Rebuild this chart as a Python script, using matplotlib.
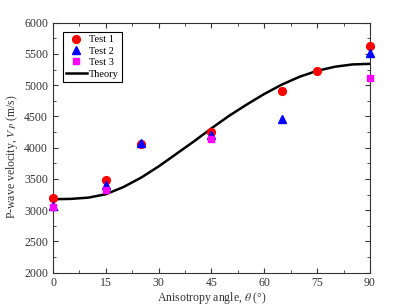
import matplotlib
matplotlib.use('Agg')
import matplotlib.pyplot as plt
from matplotlib.ticker import MultipleLocator

plt.rcParams['font.family'] = ['Liberation Serif', 'DejaVu Serif']
plt.rcParams['mathtext.fontset'] = 'stix'
plt.rcParams['font.size'] = 8.5

# measured data
ang1 = [0, 15, 25, 45, 65, 75, 90]
test1 = [3195, 3480, 4060, 4255, 4905, 5225, 5630]
ang2 = [0, 15, 25, 45, 65, 90]
test2 = [3070, 3410, 4080, 4205, 4465, 5520]
ang3 = [0, 15, 45, 90]
test3 = [3050, 3325, 4135, 5110]

# theory curve
ang_th = [0, 5, 10, 15, 20, 25, 30, 35, 40, 45, 50, 55, 60, 65, 70, 75, 80, 85, 90]
v_th = [3175, 3180, 3200, 3255, 3370, 3520, 3700, 3900, 4100, 4310,
        4510, 4690, 4860, 5010, 5135, 5230, 5295, 5332, 5342]

fig = plt.figure(figsize=(4.09, 3.07), dpi=100)
ax = fig.add_axes([0.1296, 0.112, 0.775, 0.814])

ax.plot(ang1, test1, 'o', color='red', ms=5.6, ls='none', label='Test 1', clip_on=False, zorder=3)
ax.plot(ang2, test2, '^', color='blue', ms=6.2, ls='none', label='Test 2', clip_on=False, zorder=4)
ax.plot(ang3, test3, 's', color='magenta', ms=5, ls='none', label='Test 3', clip_on=False, zorder=5)
ax.plot(ang_th, v_th, color='black', lw=1.8, label='Theory', zorder=2)

ax.set_xlim(0, 90)
ax.set_ylim(2000, 6000)
ax.xaxis.set_major_locator(MultipleLocator(15))
ax.xaxis.set_minor_locator(MultipleLocator(7.5))
ax.yaxis.set_major_locator(MultipleLocator(500))
ax.yaxis.set_minor_locator(MultipleLocator(250))
ax.tick_params(which='both', direction='in', top=True, right=True, colors='#333333')
ax.tick_params(which='major', length=3.5)
ax.tick_params(which='minor', length=2)
for s in ax.spines.values():
    s.set_color('#333333')

ax.set_xlabel(r'Anisotropy angle, $\theta$ (°)', color='#333333')
ax.set_ylabel(r'P-wave velocity, $V_{\,P}$ (m/s)', color='#333333')
ax.xaxis.set_label_coords(0.5, -0.07)
ax.yaxis.set_label_coords(-0.105, 0.465)

leg = ax.legend(loc='upper left', bbox_to_anchor=(0.031, 0.963), fancybox=False,
                edgecolor='black', framealpha=1, fontsize=7.5, borderpad=0.3,
                handlelength=2.0, handletextpad=0.2, labelspacing=0.2, borderaxespad=0)
leg.get_frame().set_linewidth(0.8)

fig.savefig('out.png', dpi=100)
